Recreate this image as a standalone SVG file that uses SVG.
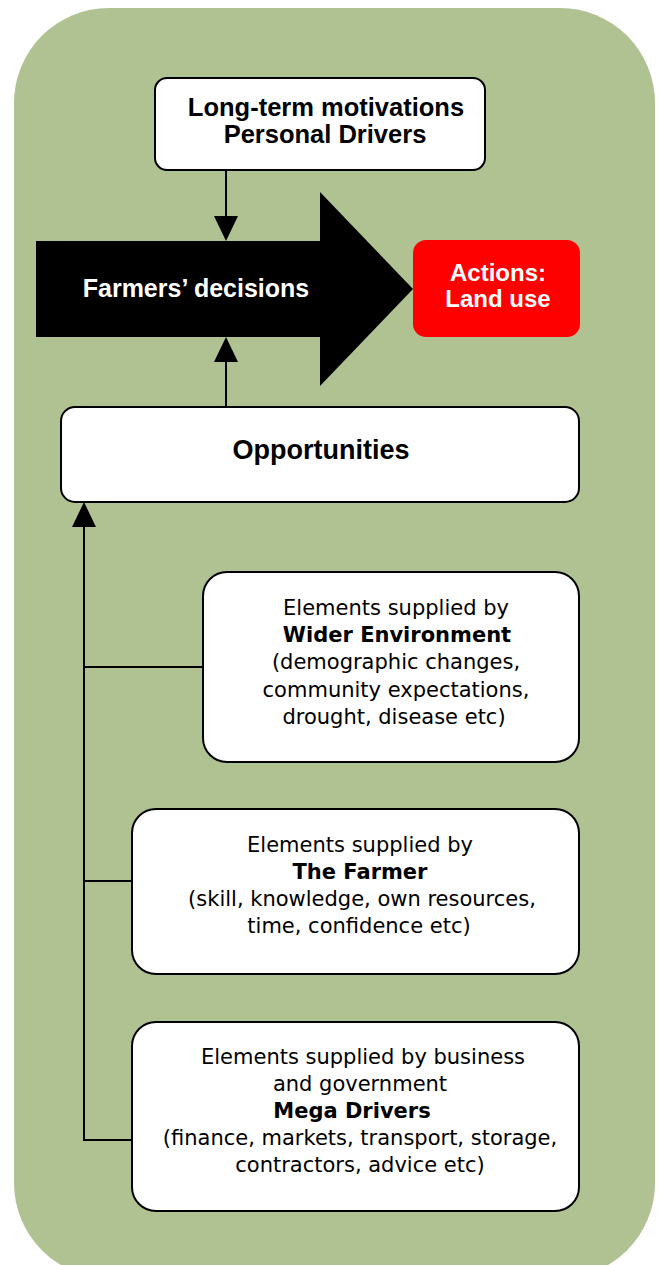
<svg xmlns="http://www.w3.org/2000/svg" width="661" height="1265" viewBox="0 0 661 1265">
  <defs>
    <style>
      .box { fill: #ffffff; stroke: #000000; stroke-width: 2; }
      .conn { fill: none; stroke: #000000; stroke-width: 2; }
      .head { font-family: "Liberation Sans", Arial, sans-serif; font-weight: bold; font-size: 25px; text-anchor: middle; }
      .body { font-family: "DejaVu Sans", Verdana, sans-serif; font-size: 21px; text-anchor: middle; fill: #000000; }
      .bodyb { font-family: "DejaVu Sans", Verdana, sans-serif; font-size: 21px; font-weight: bold; text-anchor: middle; fill: #000000; }
    </style>
    <marker id="ah" viewBox="0 0 25 24" refX="0" refY="12" markerWidth="25" markerHeight="24" markerUnits="userSpaceOnUse" orient="auto">
      <path d="M0,0 L25,12 L0,24 Z" fill="#000000"/>
    </marker>
  </defs>

  <rect id="background" x="14" y="8" width="641" height="1270" rx="95" ry="95" fill="#B1C292"/>

  <g id="connectors">
    <path class="conn" d="M226,170 V216" marker-end="url(#ah)"/>
    <path class="conn" d="M226,407 V362" marker-end="url(#ah)"/>
    <path class="conn" d="M84,1141 V527" marker-end="url(#ah)"/>
    <path class="conn" d="M84,667 H203"/>
    <path class="conn" d="M84,881 H132"/>
    <path class="conn" d="M83,1140 H132"/>
  </g>

  <g id="node-motivations">
    <rect class="box" x="155" y="78" width="330" height="92" rx="12" ry="12"/>
    <text class="head" x="326" y="116" style="font-size:25.5px">Long-term motivations</text>
    <text class="head" x="325" y="143" style="font-size:25.5px">Personal Drivers</text>
  </g>

  <g id="node-decisions">
    <polygon points="36,241 320,241 320,192 413,289 320,386 320,337 36,337" fill="#000000"/>
    <text class="head" x="196" y="297" fill="#ffffff">Farmers’ decisions</text>
  </g>

  <g id="node-actions">
    <rect x="413" y="240" width="167" height="97" rx="13" ry="13" fill="#FF0000"/>
    <text class="head" x="498" y="281" fill="#ffffff" style="font-size:24px">Actions:</text>
    <text class="head" x="498" y="307" fill="#ffffff" style="font-size:24px">Land use</text>
  </g>

  <g id="node-opportunities">
    <rect class="box" x="61" y="407" width="518" height="95" rx="14" ry="14"/>
    <text class="head" x="321" y="459" style="font-size:27px">Opportunities</text>
  </g>

  <g id="node-wider">
    <rect class="box" x="203" y="572" width="376" height="190" rx="24" ry="24"/>
    <text class="body" x="396" y="615">Elements supplied by</text>
    <text class="bodyb" x="397" y="642">Wider Environment</text>
    <text class="body" x="396" y="669">(demographic changes,</text>
    <text class="body" x="396" y="697">community expectations,</text>
    <text class="body" x="394" y="724">drought, disease etc)</text>
  </g>

  <g id="node-farmer">
    <rect class="box" x="132" y="809" width="447" height="165" rx="24" ry="24"/>
    <text class="body" x="360" y="852">Elements supplied by</text>
    <text class="bodyb" x="360" y="879">The Farmer</text>
    <text class="body" x="362" y="906">(skill, knowledge, own resources,</text>
    <text class="body" x="359" y="933">time, confidence etc)</text>
  </g>

  <g id="node-mega">
    <rect class="box" x="132" y="1022" width="447" height="189" rx="24" ry="24"/>
    <text class="body" x="363" y="1064">Elements supplied by business</text>
    <text class="body" x="360" y="1091">and government</text>
    <text class="bodyb" x="352" y="1118">Mega Drivers</text>
    <text class="body" x="360" y="1145">(finance, markets, transport, storage,</text>
    <text class="body" x="360" y="1172">contractors, advice etc)</text>
  </g>
</svg>
